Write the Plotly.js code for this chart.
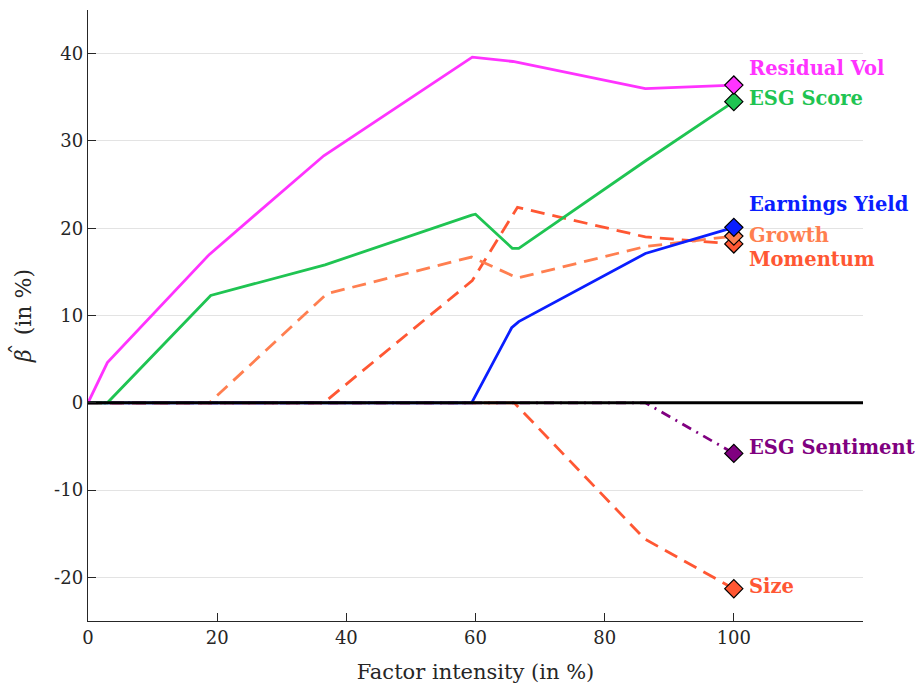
<!DOCTYPE html>
<html>
<head>
<meta charset="utf-8">
<script src="https://cdn.plot.ly/plotly-3.0.1.min.js"></script>
<style>html,body{margin:0;padding:0;background:#fff;}#chart{width:917px;height:690px;}</style>
</head>
<body>
<div id="chart"></div>
<script>
// ---- data ----
const seriesNames = ["Residual Vol", "ESG Score", "Earnings Yield", "Growth", "Momentum", "ESG Sentiment", "Size"];

const residualVolX = [0, 3, 18.8, 36.5, 59.5, 65.8, 86.3, 100];
const residualVolY = [0, 4.6, 17.0, 28.3, 39.6, 39.1, 36.0, 36.4];

const esgScoreX = [0, 3, 19.0, 36.7, 59.4, 60.0, 65.7, 66.7, 86.3, 100];
const esgScoreY = [0, 0, 12.3, 15.8, 21.5, 21.6, 17.7, 17.7, 27.7, 34.5];

const earningsYieldX = [0, 59.4, 65.6, 66.7, 86.3, 100];
const earningsYieldY = [0, 0, 8.6, 9.3, 17.1, 20.1];

const growthX = [0, 18.8, 37.0, 59.4, 66.5, 86.3, 100];
const growthY = [0, 0, 12.5, 16.7, 14.3, 17.9, 19.1];

const momentumX = [0, 36.5, 59.5, 66.5, 86.3, 100];
const momentumY = [0, 0, 14.0, 22.4, 19.0, 18.2];

const esgSentimentX = [0, 86.3, 100];
const esgSentimentY = [0, 0, -5.8];

const sizeX = [0, 66.0, 86.2, 100];
const sizeY = [0, 0, -15.6, -21.3];

const zeroLineX = [0, 120];
const zeroLineY = [0, 0];

const xTickVals = [0, 20, 40, 60, 80, 100];
const yTickVals = [-20, -10, 0, 10, 20, 30, 40];

// ---- styles ----
const SERIF = "DejaVu Serif";
const styles = {
  "Residual Vol":  {color: "#ff33ff", dash: "solid", labelShift: 17},
  "ESG Score":     {color: "#1fc452", dash: "solid", labelShift: 3},
  "Earnings Yield":{color: "#0a1eff", dash: "solid", labelShift: 23},
  "Growth":        {color: "#ff7f50", dash: "14px,8px", labelShift: 1},
  "Momentum":      {color: "#ff5733", dash: "14px,8px", labelShift: -16},
  "ESG Sentiment": {color: "#800080", dash: "10px,6px,2px,6px", labelShift: 6},
  "Size":          {color: "#ff5733", dash: "14px,8px", labelShift: 2}
};

const seriesData = {
  "Residual Vol": [residualVolX, residualVolY],
  "ESG Score": [esgScoreX, esgScoreY],
  "Earnings Yield": [earningsYieldX, earningsYieldY],
  "Growth": [growthX, growthY],
  "Momentum": [momentumX, momentumY],
  "ESG Sentiment": [esgSentimentX, esgSentimentY],
  "Size": [sizeX, sizeY]
};

const drawOrder = ["ESG Sentiment", "Size", "Momentum", "Growth", "Earnings Yield", "ESG Score", "Residual Vol"];

const traces = [];
drawOrder.forEach(name => {
  const [xs, ys] = seriesData[name];
  traces.push({
    x: xs, y: ys, type: "scatter", mode: "lines", name: name,
    line: {color: styles[name].color, width: 2.8, dash: styles[name].dash},
    hoverinfo: "skip", showlegend: false
  });
});
traces.push({
  x: zeroLineX, y: zeroLineY, type: "scatter", mode: "lines",
  line: {color: "#000000", width: 3}, showlegend: false, hoverinfo: "skip"
});
// end markers
const markerOrder = ["Size", "ESG Sentiment", "Momentum", "Growth", "Earnings Yield", "ESG Score", "Residual Vol"];
markerOrder.forEach(name => {
  const [xs, ys] = seriesData[name];
  traces.push({
    x: [xs[xs.length - 1]], y: [ys[ys.length - 1]], type: "scatter", mode: "markers",
    marker: {symbol: "diamond", size: 14, color: styles[name].color, line: {color: "#000", width: 1.2}},
    showlegend: false, hoverinfo: "skip"
  });
});

const annotations = seriesNames.map(name => {
  const [xs, ys] = seriesData[name];
  return {
    x: xs[xs.length - 1], y: ys[ys.length - 1], xref: "x", yref: "y",
    text: "<b>" + name + "</b>", showarrow: false, xanchor: "left", yanchor: "middle",
    xshift: 13, yshift: styles[name].labelShift,
    font: {family: SERIF, size: 19.5, color: styles[name].color}
  };
});
// circumflex over the beta of the y-axis title
annotations.push({
  x: 0, y: 0.5, xref: "paper", yref: "paper", text: "\u02C6", showarrow: false,
  textangle: -90, xanchor: "center", yanchor: "middle",
  xshift: -70, yshift: -34,
  font: {family: SERIF, size: 22, color: "#262626"}
});

const layout = {
  width: 917, height: 690,
  margin: {l: 88, r: 54, t: 10, b: 69},
  paper_bgcolor: "#fff", plot_bgcolor: "#fff",
  font: {family: SERIF, size: 18, color: "#262626"},
  xaxis: {
    range: [0, 120], tickvals: xTickVals, ticktext: xTickVals.map(String),
    showgrid: false, zeroline: false, showline: true, linecolor: "#262626", linewidth: 1.3,
    ticks: "inside", ticklen: 8, tickcolor: "#262626", tickwidth: 1,
    tickfont: {family: SERIF, size: 18, color: "#262626"},
    title: {text: "Factor intensity (in %)", font: {family: SERIF, size: 21, color: "#262626"}, standoff: 17}
  },
  yaxis: {
    range: [-25, 45], tickvals: yTickVals, ticktext: yTickVals.map(String),
    showgrid: true, gridcolor: "#e3e3e3", gridwidth: 1,
    zeroline: false, showline: true, linecolor: "#262626", linewidth: 1.3,
    ticks: "inside", ticklen: 8, tickcolor: "#262626", tickwidth: 1,
    tickfont: {family: SERIF, size: 18, color: "#262626"},
    title: {text: "<i>\u03B2</i>  (in %)", font: {family: SERIF, size: 22, color: "#262626"}, standoff: 16}
  },
  annotations: annotations,
  showlegend: false
};

Plotly.newPlot("chart", traces, layout, {staticPlot: true, displayModeBar: false});
</script>
</body>
</html>
